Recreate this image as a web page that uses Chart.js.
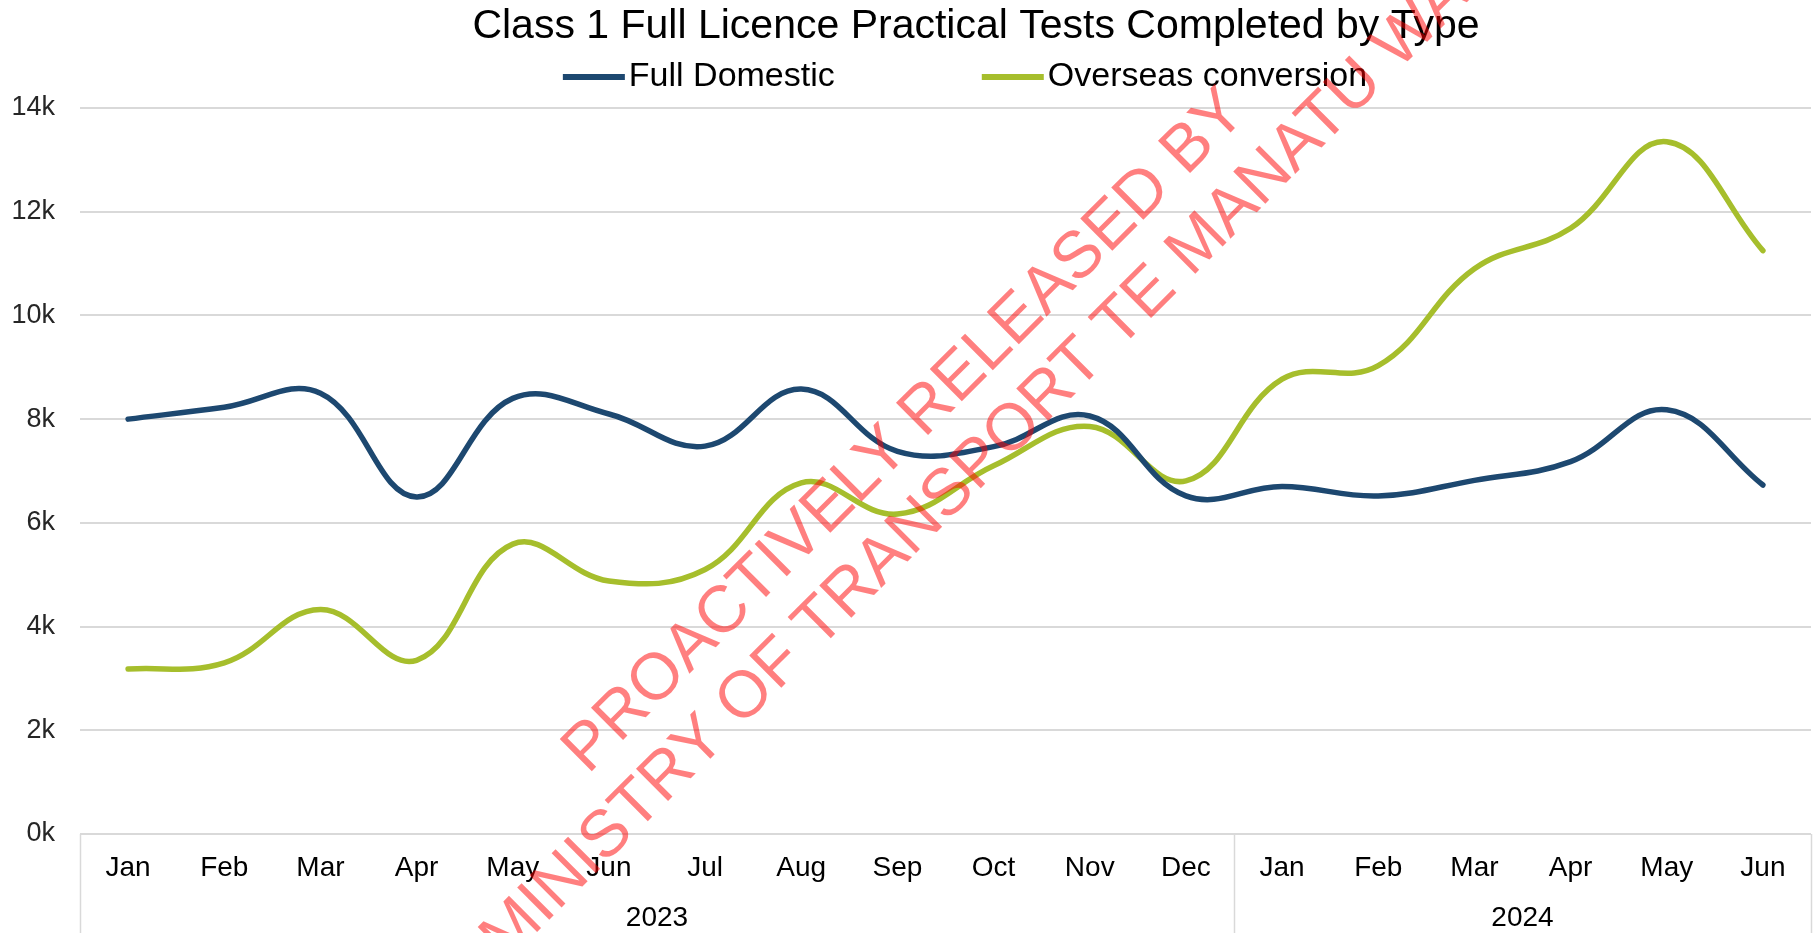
<!DOCTYPE html>
<html>
<head>
<meta charset="utf-8">
<title>Class 1 Full Licence Practical Tests Completed by Type</title>
<script src="https://cdn.jsdelivr.net/npm/chart.js@4.4.1/dist/chart.umd.min.js"></script>
<style>
  html, body { margin: 0; padding: 0; background: #fff; }
  canvas { display: block; }
</style>
</head>
<body>
<canvas id="chart" width="1813" height="933"></canvas>
<script>
// Dados (testes práticos por mês)
const chartTitle = 'Class 1 Full Licence Practical Tests Completed by Type';
const months = ['Jan', 'Feb', 'Mar', 'Apr', 'May', 'Jun', 'Jul', 'Aug', 'Sep', 'Oct', 'Nov', 'Dec',
  'Jan', 'Feb', 'Mar', 'Apr', 'May', 'Jun'];
const years = ['2023', '2024'];
const monthsPerYear = [12, 6];
const fullDomestic = [8000, 8230, 8500, 6500, 8400, 8100, 7480, 8580, 7380, 7470, 8060, 6520,
  6700, 6520, 6820, 7180, 8180, 6730];
const overseasConversion = [3180, 3300, 4330, 3350, 5590, 4880, 5100, 6770, 6170, 7100, 7860, 6810,
  8770, 9030, 10900, 11680, 13350, 11250];
const watermarkLines = ['PROACTIVELY RELEASED BY', 'MINISTRY OF TRANSPORT TE MANATU WAKA'];

const FONT = '"Liberation Sans", Arial, sans-serif';
const BLUE = '#1d4870';
const GREEN = '#a6be2c';
const GRID = '#d9d9d9';

// Título e legenda desenhados à mão (posição igual à do original)
const headerPlugin = {
  id: 'header',
  afterDraw(chart) {
    const ctx = chart.ctx;
    ctx.save();
    ctx.fillStyle = '#000';
    ctx.textBaseline = 'middle';
    ctx.textAlign = 'center';
    ctx.font = '41px ' + FONT;
    ctx.fillText(chartTitle, 976, 27);

    // legenda
    ctx.font = '34px ' + FONT;
    ctx.textAlign = 'left';
    const symW = 62, gap = 4, spacing = 147;
    const items = chart.data.datasets.map(ds => ({
      label: ds.label, color: ds.borderColor,
      w: symW + gap + ctx.measureText(ds.label).width
    }));
    const total = items.reduce((s, it) => s + it.w, 0) + spacing * (items.length - 1);
    let x = 965 - total / 2;
    const y = 77;
    for (const it of items) {
      ctx.fillStyle = it.color;
      ctx.fillRect(x, y - 3, symW, 6);
      ctx.fillStyle = '#000';
      ctx.fillText(it.label, x + symW + gap, y);
      x += it.w + spacing;
    }
    ctx.restore();
  }
};

// Caixa do eixo X com os anos
const yearAxisPlugin = {
  id: 'yearAxis',
  afterDraw(chart) {
    const ctx = chart.ctx;
    const xs = chart.scales.x;
    const area = chart.chartArea;
    const half = (xs.getPixelForValue(1) - xs.getPixelForValue(0)) / 2;
    ctx.save();
    ctx.strokeStyle = GRID;
    ctx.lineWidth = 1.5;
    ctx.fillStyle = '#000';
    ctx.font = '28px ' + FONT;
    ctx.textAlign = 'center';
    ctx.textBaseline = 'middle';
    let start = 0;
    const edges = [area.left];
    years.forEach((yr, i) => {
      const end = start + monthsPerYear[i] - 1;
      const left = xs.getPixelForValue(start) - half;
      const right = xs.getPixelForValue(end) + half;
      edges.push(right);
      ctx.fillText(yr, (left + right) / 2, 918);
      start = end + 1;
    });
    for (const ex of edges) {
      const px = Math.round(ex) + 0.5;
      ctx.beginPath();
      ctx.moveTo(px, area.bottom);
      ctx.lineTo(px, chart.height);
      ctx.stroke();
    }
    ctx.restore();
  }
};

// Marca d'água vermelha
const watermarkPlugin = {
  id: 'watermark',
  afterDraw(chart) {
    const ctx = chart.ctx;
    const starts = [[588, 775], [506, 963]];
    ctx.save();
    ctx.fillStyle = 'rgba(255, 0, 0, 0.5)';
    ctx.font = '66px ' + FONT;
    ctx.textAlign = 'left';
    ctx.textBaseline = 'alphabetic';
    watermarkLines.forEach((txt, i) => {
      ctx.save();
      ctx.translate(starts[i][0], starts[i][1]);
      ctx.rotate(-Math.PI / 4);
      ctx.fillText(txt, 0, 0);
      ctx.restore();
    });
    ctx.restore();
  }
};

new Chart(document.getElementById('chart'), {
  type: 'line',
  data: {
    labels: months,
    datasets: [
      { label: 'Full Domestic', data: fullDomestic, borderColor: BLUE, backgroundColor: BLUE },
      { label: 'Overseas conversion', data: overseasConversion, borderColor: GREEN, backgroundColor: GREEN }
    ]
  },
  options: {
    responsive: false,
    animation: false,
    devicePixelRatio: 1,
    layout: { padding: { top: 108, right: 2, left: 0, bottom: 0 } },
    elements: {
      line: { borderWidth: 5.5, tension: 0.4, borderCapStyle: 'round' },
      point: { radius: 0, hoverRadius: 0 }
    },
    plugins: {
      legend: { display: false },
      title: { display: false },
      tooltip: { enabled: false }
    },
    scales: {
      x: {
        offset: true,
        grid: { display: false, drawTicks: false },
        border: { display: false },
        ticks: {
          autoSkip: false, maxRotation: 0, padding: 17,
          color: '#000', font: { family: FONT, size: 28 }
        },
        afterFit(scale) { scale.height = 99; }
      },
      y: {
        min: 0, max: 14000,
        grid: { color: GRID, lineWidth: 2, drawTicks: false },
        border: { display: false },
        ticks: {
          stepSize: 2000, padding: 25,
          color: '#262626', font: { family: FONT, size: 27 },
          callback: v => (v / 1000) + 'k'
        },
        afterFit(scale) { scale.width = 80; }
      }
    }
  },
  plugins: [headerPlugin, yearAxisPlugin, watermarkPlugin]
});
</script>
</body>
</html>
